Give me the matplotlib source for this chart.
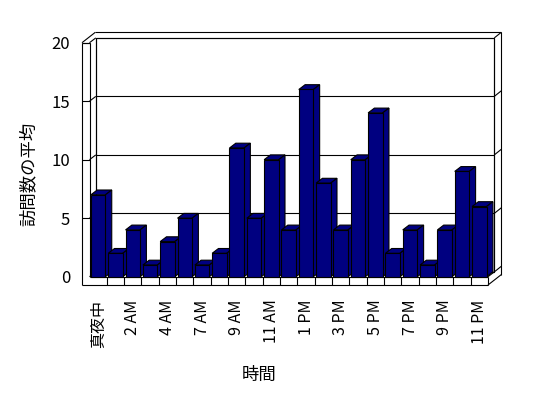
import matplotlib
matplotlib.use("Agg")
from matplotlib import pyplot as plt
from matplotlib.patches import Polygon

plt.rcParams["font.family"] = ["Noto Sans CJK JP", "DejaVu Sans"]

hours = ["真夜中", "1 AM", "2 AM", "3 AM", "4 AM", "5 AM", "7 AM", "8 AM",
         "9 AM", "10 AM", "11 AM", "正午", "1 PM", "2 PM", "3 PM", "4 PM",
         "5 PM", "6 PM", "7 PM", "8 PM", "9 PM", "10 PM", "11 PM"]
visits = [7, 2, 4, 1, 3, 5, 1, 2, 11, 5, 10, 4, 16, 8, 4, 10, 14, 2, 4, 1, 4, 9, 6]
y_ticks = [0, 5, 10, 15, 20]

W, H = 548, 398
L, R, T, B = 89.5, 488.0, 42.7, 276.7   # front plane of the plot, in pixels
n = len(hours)
ymax = 20

fig = plt.figure(figsize=(W / 100, H / 100), dpi=100)
ax = fig.add_axes([L / W, 1 - B / H, (R - L) / W, (B - T) / H])
ax.set_xlim(-0.5, n - 0.5)
ax.set_ylim(0, ymax)
ax.set_facecolor("none")
for s in ax.spines.values():
    s.set_visible(False)

# pixel sizes -> data units
sx = (R - L) / n
sy = (B - T) / ymax
din = (6.3 / sx, 4.8 / sy)      # depth of floor / bars
dout = (13.3 / sx, 10.4 / sy)   # depth incl. back wall thickness
wall = 7.5 / sx
floor_t = 8.3 / sy
x0, x1 = -0.5, n - 0.5

lk = dict(color="black", lw=0.8, clip_on=False, solid_capstyle="butt")


def line(xs, ys, z=1):
    ax.plot(xs, ys, zorder=z, **lk)


# back wall face
ax.add_patch(Polygon([(x0 + din[0], din[1]), (x1 + din[0], din[1]),
                      (x1 + din[0], ymax + din[1]), (x0 + din[0], ymax + din[1])],
                     closed=True, facecolor="white", edgecolor="black", lw=0.8,
                     zorder=0.5, clip_on=False))

# grid lines: front tick, left wall, back wall, right side
for v in y_ticks:
    if v > 0:
        line([x0 - wall, x0], [v, v])
    line([x0, x0 + din[0]], [v, v + din[1]])
    line([x0 + din[0], x1 + din[0]], [v + din[1], v + din[1]])
    if v < ymax:
        line([x1 + din[0], x1 + dout[0]], [v + din[1], v + dout[1]])

# left wall
line([x0 - wall, x0 - wall], [-floor_t, ymax])
line([x0 - wall, x0], [ymax, ymax])
line([x0, x0], [0, ymax])
line([x0 + din[0], x0 + din[0]], [din[1], ymax + din[1]])
line([x0 - wall, x0 - wall + dout[0]], [ymax, ymax + dout[1]])

# top and right of back wall
line([x0 - wall + dout[0], x1 + dout[0]], [ymax + dout[1], ymax + dout[1]])
line([x1 + din[0], x1 + dout[0]], [ymax + din[1], ymax + dout[1]])
line([x1 + din[0], x1 + din[0]], [din[1], ymax + din[1]])
line([x1 + dout[0], x1 + dout[0]], [-floor_t + dout[1], ymax + dout[1]])

# floor slab
line([x0 - wall, x1], [-floor_t, -floor_t])
line([x0, x1], [0, 0])
line([x1, x1], [-floor_t, 0])
line([x1, x1 + dout[0]], [-floor_t, -floor_t + dout[1]])
line([x1, x1 + din[0]], [0, din[1]])
for k in range(1, n):
    line([x0 + k, x0 + k], [-floor_t, 0])

# bars
bw = 0.84
navy = "#000080"
bars = ax.bar(range(n), visits, width=bw, color=navy, edgecolor="black",
              linewidth=0.8, clip_on=False)
for i, (b, v) in enumerate(zip(bars, visits)):
    z = 2 + i * 0.1
    b.set_zorder(z + 0.05)
    xl, xr = i - bw / 2, i + bw / 2
    top = [(xl, v), (xr, v), (xr + din[0], v + din[1]), (xl + din[0], v + din[1])]
    side = [(xr, 0), (xr, v), (xr + din[0], v + din[1]), (xr + din[0], din[1])]
    for pts in (top, side):
        ax.add_patch(Polygon(pts, closed=True, facecolor=navy, edgecolor="black",
                             lw=0.8, zorder=z, clip_on=False))

ax.set_yticks(y_ticks)
ax.set_yticklabels([str(v) for v in y_ticks], fontsize=12)
ax.tick_params(axis="y", length=0, pad=14)
ax.set_xticks(range(0, n, 2))
ax.set_xticklabels(hours[::2], rotation=90, fontsize=11.5)
ax.tick_params(axis="x", length=0, pad=16.5)

fig.text(28.7 / W, 1 - 174 / H, "訪問数の平均", rotation=90, fontsize=12.5,
         ha="center", va="center")
fig.text(259 / W, 1 - 375 / H, "時間", fontsize=12.5, ha="center", va="center")

fig.savefig("out.png", dpi=100, facecolor="white")
